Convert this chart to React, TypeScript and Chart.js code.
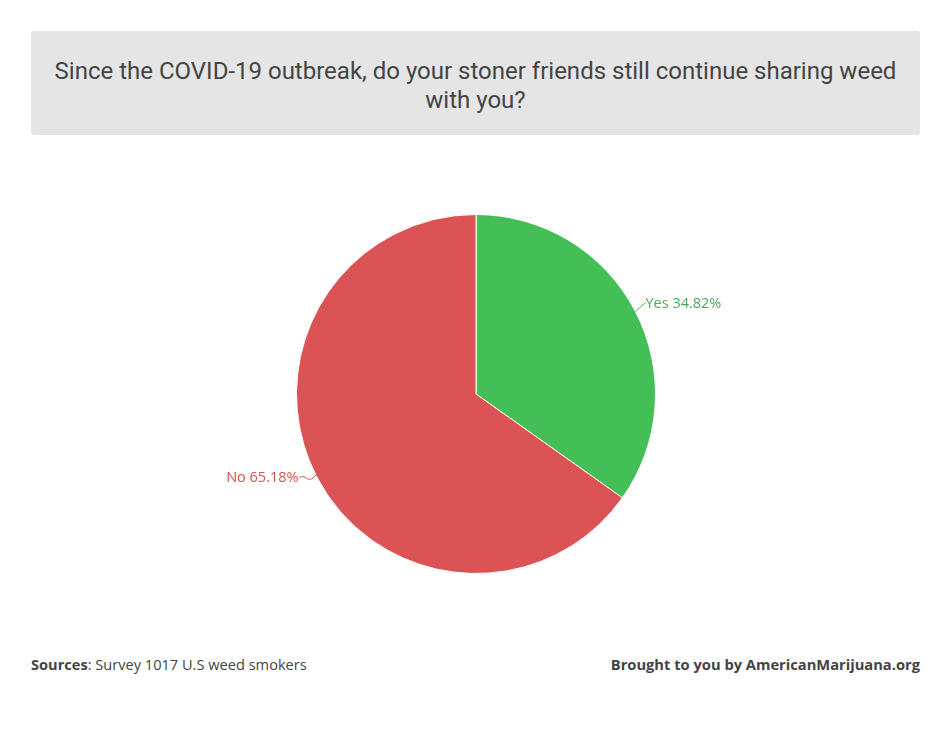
import React, { useEffect, useRef } from "react";
import { Chart, registerables } from "chart.js";

Chart.register(...registerables);

const categories = ["Yes", "No"];
const values = [34.82, 65.18];
const colors = ["#43bf56", "#dc5356"];
const labelColors = ["#4aa95a", "#d6534f"];
const titleText = "Since the COVID-19 outbreak, do your stoner friends still continue sharing weed with you?";
const sourceLabel = "Sources";
const sourceText = "Survey 1017 U.S weed smokers";
const creditText = "Brought to you by AmericanMarijuana.org";

const labelPlugin = {
  id: "outLabels",
  afterDatasetsDraw(chart: any) {
    const ctx = chart.ctx;
    const meta = chart.getDatasetMeta(0);
    ctx.save();
    ctx.font = "14.5px 'Open Sans'";
    ctx.textBaseline = "middle";
    meta.data.forEach((arc: any, i: number) => {
      const p = arc.getProps(["x", "y", "startAngle", "endAngle", "outerRadius"], true);
      const mid = (p.startAngle + p.endAngle) / 2;
      const cx = Math.cos(mid);
      const cy = Math.sin(mid);
      const ex = p.x + cx * p.outerRadius;
      const ey = p.y + cy * p.outerRadius;
      const right = cx >= 0;
      ctx.strokeStyle = labelColors[i];
      ctx.lineWidth = 1;
      ctx.beginPath();
      let lx: number;
      let ly: number;
      if (right) {
        lx = ex + 10;
        ly = ey - 9;
        ctx.moveTo(ex, ey);
        ctx.lineTo(lx, ly);
      } else {
        lx = ex - 17;
        ly = ey + 1;
        ctx.moveTo(ex, ey - 2);
        ctx.bezierCurveTo(ex - 5, ey + 5, ex - 9, ey + 3, ex - 11, ey + 1);
        ctx.quadraticCurveTo(ex - 14, ey - 1, lx, ly);
      }
      ctx.stroke();
      ctx.fillStyle = labelColors[i];
      ctx.textAlign = right ? "left" : "right";
      const txt = `${categories[i]} ${values[i].toFixed(2)}%`;
      ctx.fillText(txt, lx + (right ? 0 : -1), right ? ly + 1 : ly);
    });
    ctx.restore();
  },
};

function PieChart() {
  const ref = useRef<HTMLCanvasElement | null>(null);
  useEffect(() => {
    if (!ref.current) return;
    const chart = new Chart(ref.current, {
      type: "pie",
      data: {
        labels: categories,
        datasets: [
          {
            data: values,
            backgroundColor: colors,
            borderColor: "#ffffff",
            borderWidth: 1,
            hoverOffset: 0,
          },
        ],
      },
      options: {
        responsive: false,
        animation: false,
        layout: { padding: { top: 74, bottom: 74, left: 0, right: 0 } },
        plugins: {
          legend: { display: false },
          title: { display: false },
          tooltip: { enabled: false },
        },
      },
      plugins: [labelPlugin],
    });
    return () => chart.destroy();
  }, []);
  return (
    <canvas
      ref={ref}
      width={952}
      height={508}
      style={{ position: "absolute", left: 0, top: 140, width: 952, height: 508 }}
    />
  );
}

export default function App() {
  return (
    <div
      style={{
        position: "fixed",
        left: 0,
        top: 0,
        width: 952,
        height: 729,
        background: "#ffffff",
        overflow: "hidden",
      }}
    >
      <div
        style={{
          position: "absolute",
          left: 31,
          top: 31,
          width: 889,
          height: 104,
          background: "#e5e5e5",
          borderRadius: 3,
          display: "flex",
          alignItems: "center",
          justifyContent: "center",
          textAlign: "center",
          boxSizing: "border-box",
          padding: "6px 10px 0 10px",
          fontFamily: "Roboto, sans-serif",
          fontSize: 24,
          lineHeight: "29px",
          color: "#444444",
        }}
      >
        {titleText}
      </div>
      <PieChart />
      <div
        style={{
          position: "absolute",
          left: 31,
          top: 654,
          fontFamily: "'Open Sans', sans-serif",
          fontSize: 14.6,
          lineHeight: "20px",
          color: "#444444",
          whiteSpace: "nowrap",
        }}
      >
        <b>{sourceLabel}</b>: {sourceText}
      </div>
      <div
        style={{
          position: "absolute",
          right: 32,
          top: 654,
          fontFamily: "'Open Sans', sans-serif",
          fontSize: 14.7,
          lineHeight: "20px",
          fontWeight: 700,
          color: "#444444",
          whiteSpace: "nowrap",
        }}
      >
        {creditText}
      </div>
    </div>
  );
}
